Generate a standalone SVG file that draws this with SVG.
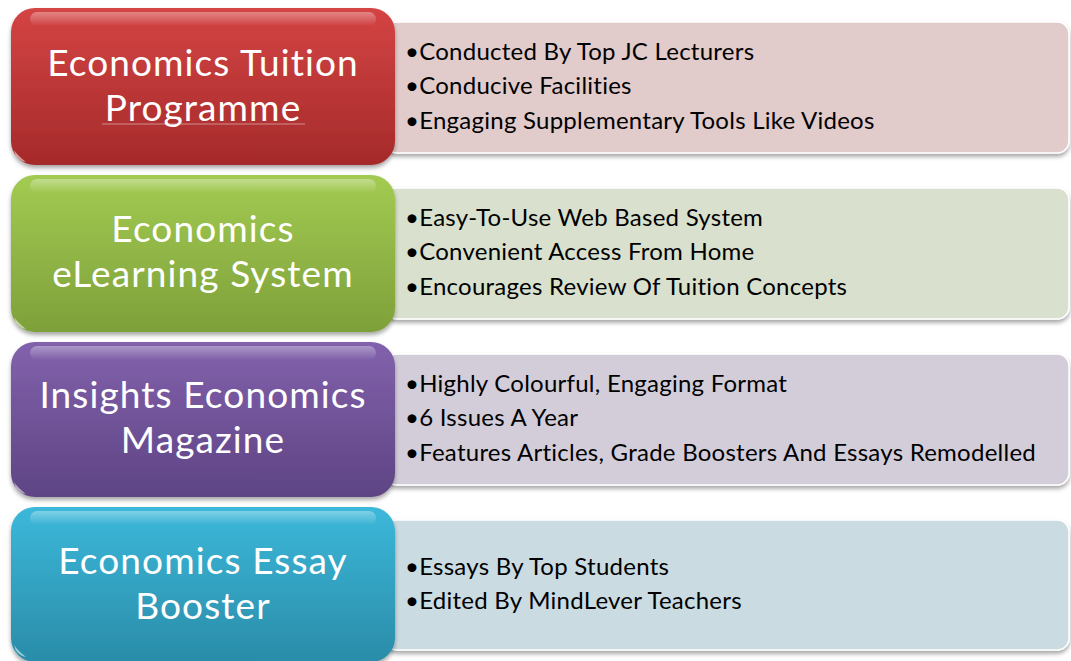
<svg xmlns="http://www.w3.org/2000/svg" width="1071" height="661" viewBox="0 0 1071 661">
<defs>
<linearGradient id="gRed" x1="0" y1="0" x2="0" y2="1"><stop offset="0" stop-color="#d44444"/><stop offset="1" stop-color="#a52a2a"/></linearGradient>
<linearGradient id="gGreen" x1="0" y1="0" x2="0" y2="1"><stop offset="0" stop-color="#a3cb52"/><stop offset="1" stop-color="#7ea03a"/></linearGradient>
<linearGradient id="gPurple" x1="0" y1="0" x2="0" y2="1"><stop offset="0" stop-color="#8262ac"/><stop offset="1" stop-color="#5e4484"/></linearGradient>
<linearGradient id="gBlue" x1="0" y1="0" x2="0" y2="1"><stop offset="0" stop-color="#3cb8da"/><stop offset="1" stop-color="#2a8ca8"/></linearGradient>
<linearGradient id="gloss" x1="0" y1="0" x2="0" y2="1"><stop offset="0" stop-color="#fff" stop-opacity="0.35"/><stop offset="1" stop-color="#fff" stop-opacity="0"/></linearGradient>
<filter id="sh" x="-5%" y="-10%" width="110%" height="125%"><feDropShadow dx="0" dy="3" stdDeviation="2" flood-color="#000" flood-opacity="0.35"/></filter>
</defs>
<style>
.title{font-family:Lato,"Liberation Sans",sans-serif;font-size:37px;letter-spacing:1.1px;fill:#fff;text-anchor:middle}
.item{font-family:Lato,"Liberation Sans",sans-serif;font-size:24px;letter-spacing:0.25px;fill:#000}
.panel{stroke:#fff;stroke-width:1.5;filter:url(#sh)}
.box{filter:url(#sh)}
.gl{fill:url(#gloss)}
.corner{fill:#fff;opacity:0.55}
</style>

<g id="row1">
<rect class="panel" x="385" y="22" width="684" height="131" rx="12" fill="#e2cbcb"/>
<rect class="box" x="11" y="8" width="384" height="157" rx="24" fill="url(#gRed)"/>
<rect class="gl" x="30" y="12" width="346" height="14" rx="7"/>
<path class="corner" d="M14 150 Q16 160 26 162 Q18 156 14 150 Z"/>
<text class="title" x="203" y="76">Economics Tuition</text>
<text class="title" x="203" y="121">Programme</text>
<line x1="102" y1="124" x2="305" y2="124" stroke="#fff" stroke-opacity="0.45" stroke-width="1"/>
<text class="item" x="405" y="60">•Conducted By Top JC Lecturers</text>
<text class="item" x="405" y="94">•Conducive Facilities</text>
<text class="item" x="405" y="129">•Engaging Supplementary Tools Like Videos</text>
</g>

<g id="row2">
<rect class="panel" x="385" y="188" width="684" height="131" rx="12" fill="#d9e0cd"/>
<rect class="box" x="11" y="175" width="384" height="157" rx="24" fill="url(#gGreen)"/>
<rect class="gl" x="30" y="179" width="346" height="14" rx="7"/>
<path class="corner" d="M14 317 Q16 327 26 329 Q18 323 14 317 Z"/>
<text class="title" x="203" y="242">Economics</text>
<text class="title" x="203" y="287">eLearning System</text>
<text class="item" x="405" y="226">•Easy-To-Use Web Based System</text>
<text class="item" x="405" y="260">•Convenient Access From Home</text>
<text class="item" x="405" y="295">•Encourages Review Of Tuition Concepts</text>
</g>

<g id="row3">
<rect class="panel" x="385" y="354" width="684" height="131" rx="12" fill="#d3cdda"/>
<rect class="box" x="11" y="342" width="384" height="155" rx="24" fill="url(#gPurple)"/>
<rect class="gl" x="30" y="346" width="346" height="14" rx="7"/>
<path class="corner" d="M14 482 Q16 492 26 494 Q18 488 14 482 Z"/>
<text class="title" x="203" y="408">Insights Economics</text>
<text class="title" x="203" y="453">Magazine</text>
<text class="item" x="405" y="392">•Highly Colourful, Engaging Format</text>
<text class="item" x="405" y="426">•6 Issues A Year</text>
<text class="item" x="405" y="461">•Features Articles, Grade Boosters And Essays Remodelled</text>
</g>

<g id="row4">
<rect class="panel" x="385" y="520" width="684" height="130" rx="12" fill="#cadbe1"/>
<rect class="box" x="11" y="507" width="384" height="155" rx="24" fill="url(#gBlue)"/>
<rect class="gl" x="30" y="511" width="346" height="14" rx="7"/>
<path class="corner" d="M14 645 Q16 655 26 657 Q18 651 14 645 Z"/>
<text class="title" x="203" y="574">Economics Essay</text>
<text class="title" x="203" y="619">Booster</text>
<text class="item" x="405" y="575">•Essays By Top Students</text>
<text class="item" x="405" y="609">•Edited By MindLever Teachers</text>
</g>

<g id="connectors"></g>
</svg>
